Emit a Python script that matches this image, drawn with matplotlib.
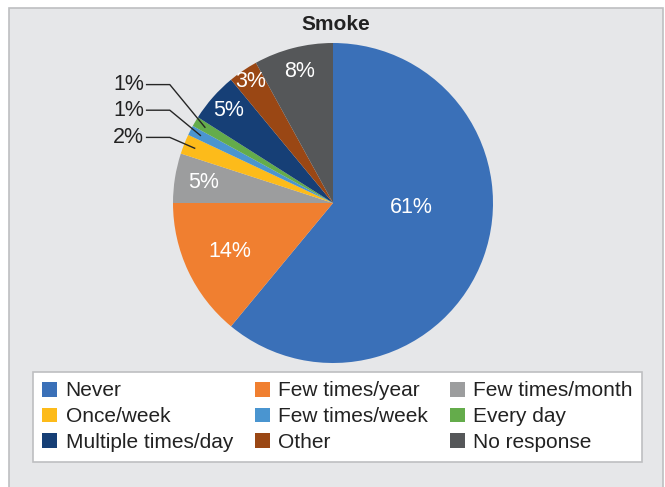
import matplotlib.pyplot as plt
from matplotlib.patches import Rectangle
import numpy as np

plt.rcParams['font.family'] = ['Liberation Sans', 'DejaVu Sans']

# dados
categorias = ['Never', 'Few times/year', 'Few times/month', 'Once/week',
              'Few times/week', 'Every day', 'Multiple times/day', 'Other',
              'No response']
valores = [61, 14, 5, 2, 1, 1, 5, 3, 8]
cores = ['#3A70B8', '#F07F30', '#9C9D9E', '#FDBB1A', '#4A95D0', '#64AC4B',
         '#163F76', '#9A4714', '#555759']

# posição dos rótulos (raio relativo) e rótulos que ficam fora com linha
raio_rotulo = [0.49, 0.71, 0.82, None, None, None, 0.87, 0.92, 0.85]
rotulo_y_fora = {3: 0.41, 4: 0.58, 5: 0.74}

W, H = 665, 487
cx, cy, R = 333, 203, 160

fig = plt.figure(figsize=(W / 100, H / 100), dpi=100, facecolor='white')

# painel cinza de fundo
fig.patches.append(Rectangle((9 / W, -0.01), (654) / W, (H - 8) / H + 0.01,
                             transform=fig.transFigure, facecolor='#E6E7E9',
                             edgecolor='#BEBFC1', linewidth=1.2, zorder=-1))

ax = fig.add_axes([0, 0, 1, 1])
ax.set_facecolor('none')
wedges, _ = ax.pie(valores, colors=cores, startangle=90, counterclock=False,
                   radius=1, center=(0, 0), frame=True)
ax.set_xlim(-cx / R, (W - cx) / R)
ax.set_ylim(-(H - cy) / R, cy / R)
ax.set_aspect('auto')
ax.axis('off')

# rótulos das fatias
for i, w in enumerate(wedges):
    meio = np.deg2rad((w.theta1 + w.theta2) / 2)
    texto = f'{valores[i]}%'
    if raio_rotulo[i] is not None:
        r = raio_rotulo[i]
        if i == 0:
            meio = np.deg2rad(-3)
        ax.text(r * np.cos(meio), r * np.sin(meio), texto, color='white',
                fontsize=15.5, ha='center', va='center')
    else:
        px, py = 0.93 * np.cos(meio), 0.93 * np.sin(meio)
        ty = rotulo_y_fora[i]
        ax.plot([-1.165, -1.02, px], [ty, ty, py], color='#262626', lw=1)
        ax.text(-1.18, ty, texto, color='#222222', fontsize=15.5,
                ha='right', va='center')

fig.text(336 / W, 1 - 24 / H, 'Smoke', fontsize=15, fontweight='bold',
         ha='center', va='center', color='#222222')

ordem = [0, 3, 6, 1, 4, 7, 2, 5, 8]
leg = fig.legend([wedges[k] for k in ordem], [categorias[k] for k in ordem],
                 ncol=3, loc='upper left',
                 bbox_to_anchor=(33 / W, 1 - 372 / H), fontsize=15,
                 frameon=True, fancybox=False, edgecolor='#BEBFC1',
                 facecolor='white', framealpha=1,
                 handlelength=0.72, handleheight=0.72, handletextpad=0.4,
                 columnspacing=1.05, labelspacing=0.33, borderpad=0.45,
                 borderaxespad=0)
leg.get_frame().set_linewidth(1.2)
for t in leg.get_texts():
    t.set_color('#222222')

fig.savefig('out.png', dpi=100, facecolor='white')
